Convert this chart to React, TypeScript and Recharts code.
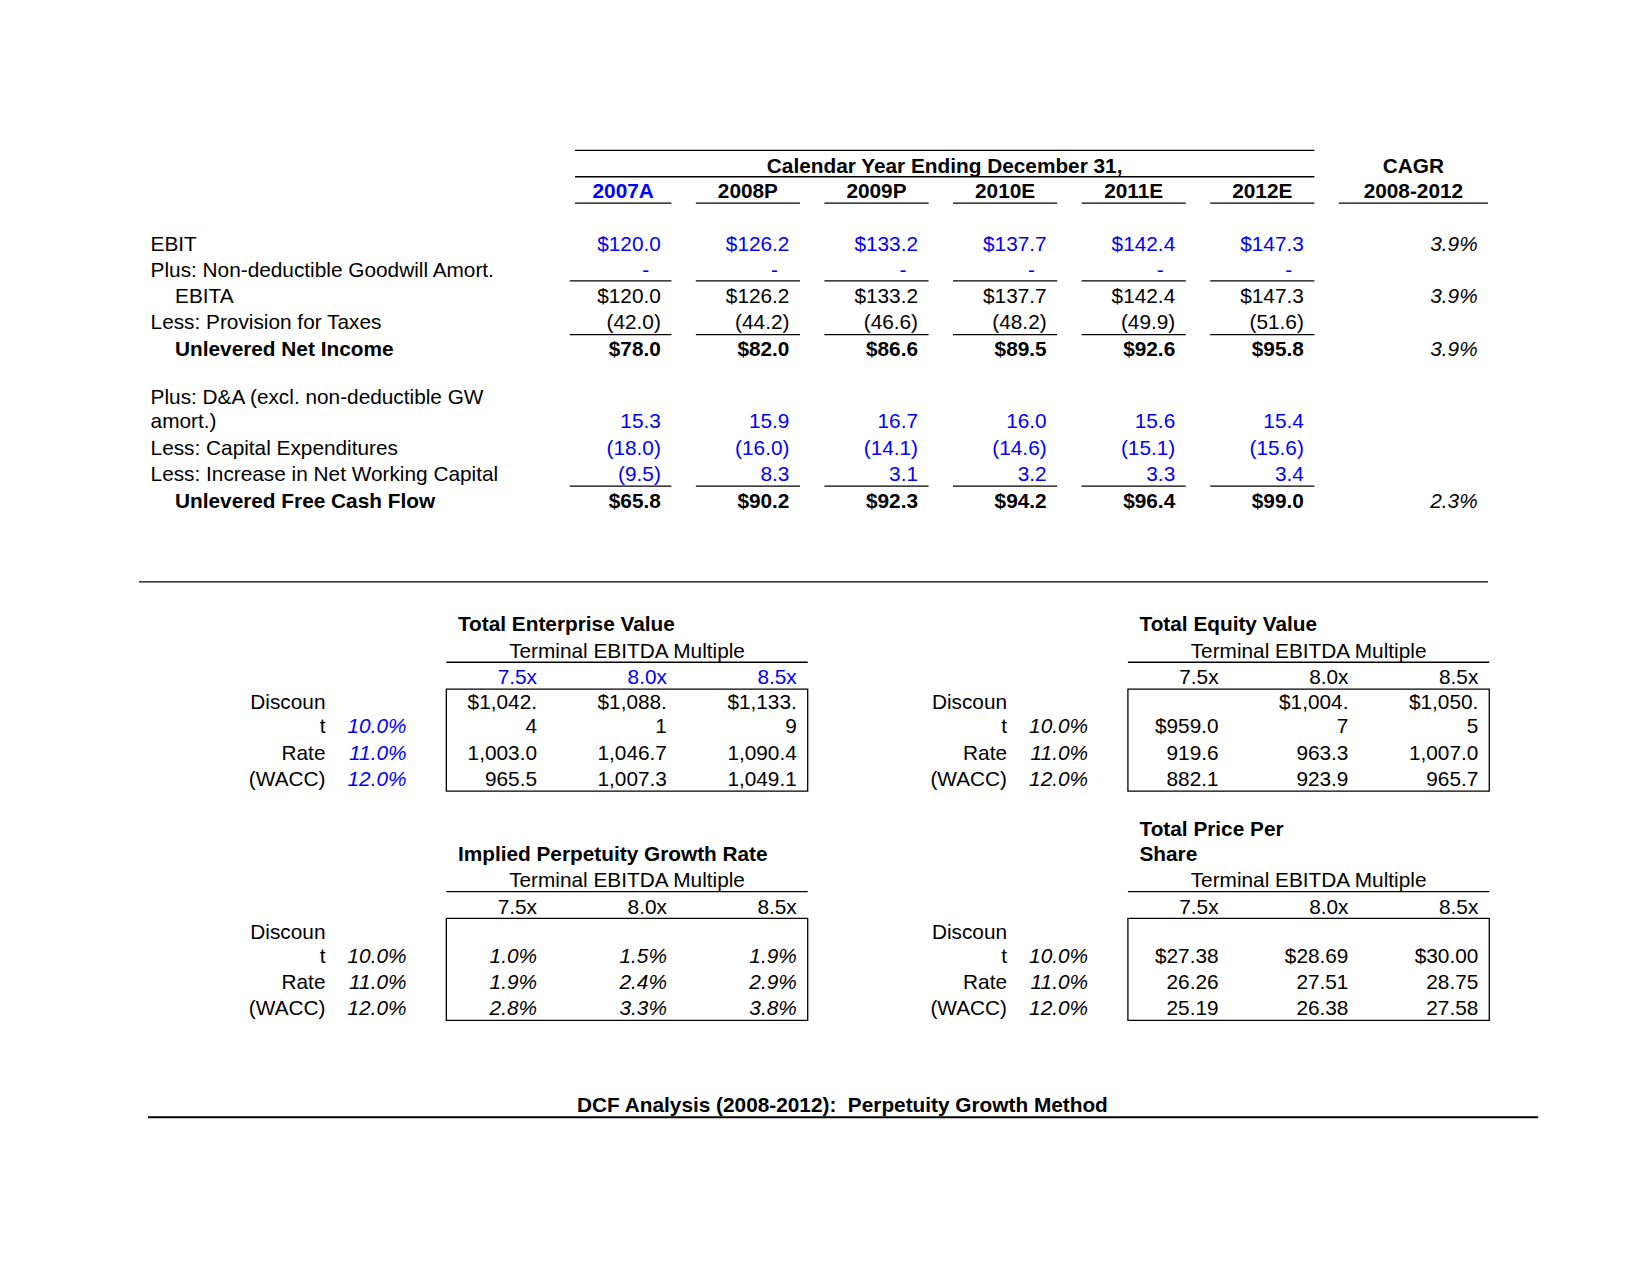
import React from "react";
import {
  ComposedChart,
  Scatter,
  XAxis,
  YAxis,
  ReferenceLine,
  ReferenceArea,
} from "recharts";

// ---- data ----
const years = ["2007A", "2008P", "2009P", "2010E", "2011E", "2012E"];
const rowLabels = [
  "EBIT",
  "Plus: Non-deductible Goodwill Amort.",
  "EBITA",
  "Less: Provision for Taxes",
  "Unlevered Net Income",
  "Plus: D&A (excl. non-deductible GW amort.)",
  "Less: Capital Expenditures",
  "Less: Increase in Net Working Capital",
  "Unlevered Free Cash Flow",
];
const ebit = [120.0, 126.2, 133.2, 137.7, 142.4, 147.3];
const goodwillAmort = [0, 0, 0, 0, 0, 0];
const ebita = [120.0, 126.2, 133.2, 137.7, 142.4, 147.3];
const taxes = [-42.0, -44.2, -46.6, -48.2, -49.9, -51.6];
const netIncome = [78.0, 82.0, 86.6, 89.5, 92.6, 95.8];
const depreciation = [15.3, 15.9, 16.7, 16.0, 15.6, 15.4];
const capex = [-18.0, -16.0, -14.1, -14.6, -15.1, -15.6];
const nwcChange = [-9.5, 8.3, 3.1, 3.2, 3.3, 3.4];
const freeCashFlow = [65.8, 90.2, 92.3, 94.2, 96.4, 99.0];
const cagr = [3.9, null, 3.9, null, 3.9, null, null, null, 2.3];

const multiples = [7.5, 8.0, 8.5];
const waccRates = [10.0, 11.0, 12.0];
const waccLabels = ["Discount", "Rate", "(WACC)"];
const enterpriseValue = [
  [1042.4, 1088.1, 1133.9],
  [1003.0, 1046.7, 1090.4],
  [965.5, 1007.3, 1049.1],
];
const equityValue = [
  [959.0, 1004.7, 1050.5],
  [919.6, 963.3, 1007.0],
  [882.1, 923.9, 965.7],
];
const growthRate = [
  [1.0, 1.5, 1.9],
  [1.9, 2.4, 2.9],
  [2.8, 3.3, 3.8],
];
const pricePerShare = [
  [27.38, 28.69, 30.0],
  [26.26, 27.51, 28.75],
  [25.19, 26.38, 27.58],
];

// ---- layout (x in spreadsheet columns, y in spreadsheet rows) ----
const W = 1650;
const H = 1275;
const X_DOMAIN: [number, number] = [-4.221, 8.61];
const Y_DOMAIN: [number, number] = [-6.281, 42.198];
const FONT = "'Liberation Sans', Arial, Helvetica, sans-serif";
const SIZE = 20.8;
const BLUE = "#0000ff";
const BLACK = "#000000";
const LINE = 0.92;

type Cell = {
  x: number;
  y: number;
  text: string;
  anchor: "start" | "middle" | "end";
  color: string;
  bold?: boolean;
  italic?: boolean;
};
type Rule = { x1: number; x2: number; y: number; w?: number };
type Box = { x1: number; x2: number; y1: number; y2: number };

const cells: Cell[] = [];
const rules: Rule[] = [];
const boxes: Box[] = [];

const wrapWords = (text: string, max: number) => {
  const out: string[] = [];
  let cur = "";
  text.split(" ").forEach((w) => {
    const next = cur ? cur + " " + w : w;
    if (next.length > max && cur) {
      out.push(cur);
      cur = w;
    } else cur = next;
  });
  out.push(cur);
  return out;
};
const wrapChars = (text: string, max: number) => {
  const out: string[] = [];
  for (let i = 0; i < text.length; i += max) out.push(text.slice(i, i + max));
  return out;
};

function addText(
  lines: string[],
  x: number,
  y: number,
  anchor: Cell["anchor"],
  color: string,
  bold = false,
  italic = false
) {
  lines.forEach((t, i) => {
    cells.push({
      x,
      y: y - (lines.length - 1 - i) * LINE,
      text: t,
      anchor,
      color,
      bold,
      italic,
    });
  });
}

const num = (v: number, d = 1) =>
  Math.abs(v).toLocaleString("en-US", {
    minimumFractionDigits: d,
    maximumFractionDigits: d,
  });
const acct = (v: number, dollar: boolean) =>
  v < 0 ? `(${num(v)})` : `${dollar ? "$" : ""}${num(v)}`;

// ---- top table ----
const valueRight = (i: number) => i + 1 - 0.082;
const headLeft = (i: number) => (i === 0 ? 0.25 : i + 0.19);
const ulLeft = (i: number) => (i === 0 ? 0.21 : i + 0.19);

rules.push({ x1: 0.25, x2: 6, y: -0.56 });
addText(["Calendar Year Ending December 31,"], 3.125, 0, "middle", BLACK, true);
rules.push({ x1: 0.25, x2: 6, y: 0.44 });
addText(["CAGR"], 6.77, 0, "middle", BLACK, true);
addText(["2008-2012"], 6.77, 0.97, "middle", BLACK, true);
years.forEach((yr, i) => {
  const left = headLeft(i);
  addText([yr], (left + i + 1) / 2, 0.97, "middle", i === 0 ? BLUE : BLACK, true);
  rules.push({ x1: left, x2: i + 1, y: 1.44 });
});
rules.push({ x1: 6.19, x2: 7.35, y: 1.44 });

const topRows = [
  { values: ebit, y: 2.96, dollar: true, color: BLUE, indent: false, bold: false },
  { values: goodwillAmort, y: 3.96, dollar: false, color: BLUE, indent: false, bold: false, under: 4.4 },
  { values: ebita, y: 4.96, dollar: true, color: BLACK, indent: true, bold: false },
  { values: taxes, y: 5.96, dollar: false, color: BLACK, indent: false, bold: false, under: 6.44 },
  { values: netIncome, y: 6.96, dollar: true, color: BLACK, indent: true, bold: true },
  { values: depreciation, y: 9.72, dollar: false, color: BLUE, indent: false, bold: false, wrap: 35 },
  { values: capex, y: 10.72, dollar: false, color: BLUE, indent: false, bold: false },
  { values: nwcChange, y: 11.72, dollar: false, color: BLUE, indent: false, bold: false, under: 12.2 },
  { values: freeCashFlow, y: 12.76, dollar: true, color: BLACK, indent: true, bold: true },
];

topRows.forEach((row, r) => {
  addText(
    row.wrap ? wrapWords(rowLabels[r], row.wrap) : [rowLabels[r]],
    row.indent ? -2.86 : -3.05,
    row.y,
    "start",
    BLACK,
    row.bold
  );
  row.values.forEach((v, i) => {
    if (v === 0) addText(["-"], valueRight(i) - 0.09, row.y, "end", row.color, row.bold);
    else addText([acct(v, row.dollar)], valueRight(i), row.y, "end", row.color, row.bold);
    if (row.under !== undefined) rules.push({ x1: ulLeft(i), x2: i + 1, y: row.under });
  });
  const g = cagr[r];
  if (g !== null) addText([`${g.toFixed(1)}%`], 7.27, row.y, "end", BLACK, false, true);
});

rules.push({ x1: -3.14, x2: 7.35, y: 15.84 });

// ---- sensitivity blocks ----
function block(
  ox: number,
  y0: number,
  title: string,
  titleWrap: number,
  matrix: number[][],
  fmt: (v: number, r: number) => string,
  italicValues: boolean,
  accent: string
) {
  addText(wrapWords(title, titleWrap), ox - 0.66, y0 - 3.88, "start", BLACK, true);
  addText(["Terminal EBITDA Multiple"], ox + 0.655, y0 - 2.88, "middle", BLACK);
  rules.push({ x1: ox - 0.75, x2: ox + 2.06, y: y0 - 2.42 });
  const colRight = (j: number) => ox - 0.045 + 1.01 * j;
  multiples.forEach((m, j) =>
    addText([`${m.toFixed(1)}x`], colRight(j), y0 - 1.86, "end", accent)
  );
  boxes.push({ x1: ox - 0.75, x2: ox + 2.06, y1: y0 - 1.4, y2: y0 + 2.48 });
  waccRates.forEach((rate, r) => {
    addText(wrapChars(waccLabels[r], 7), ox - 1.69, y0 + r, "end", BLACK);
    addText([`${rate.toFixed(1)}%`], ox - 1.06, y0 + r, "end", accent, false, true);
    matrix[r].forEach((v, j) =>
      addText(wrapChars(fmt(v, r), 7), colRight(j), y0 + r, "end", BLACK, false, italicValues)
    );
  });
}

const money1 = (v: number, r: number) => `${r === 0 ? "$" : ""}${num(v)}`;
const money2 = (v: number, r: number) => `${r === 0 ? "$" : ""}${num(v, 2)}`;
const pct = (v: number) => `${v.toFixed(1)}%`;

block(0, 21.32, "Total Enterprise Value", 99, enterpriseValue, money1, false, BLUE);
block(5.3, 21.32, "Total Equity Value", 99, equityValue, money1, false, BLACK);
block(0, 30.04, "Implied Perpetuity Growth Rate", 99, growthRate, pct, true, BLACK);
block(5.3, 30.04, "Total Price Per Share", 15, pricePerShare, money2, false, BLACK);

addText(["DCF Analysis (2008-2012):  Perpetuity Growth Method"], 2.33, 35.72, "middle", BLACK, true);
rules.push({ x1: -3.07, x2: 7.74, y: 36.2, w: 2.2 });

const renderCell = (props: any) => {
  const { cx, cy, payload } = props;
  return (
    <text
      x={cx}
      y={cy}
      dy="0.36em"
      textAnchor={payload.anchor}
      fill={payload.color}
      fontFamily={FONT}
      fontSize={SIZE}
      fontWeight={payload.bold ? 700 : 400}
      fontStyle={payload.italic ? "italic" : "normal"}
      style={{ whiteSpace: "pre" }}
    >
      {payload.text}
    </text>
  );
};

export default function App() {
  return (
    <div
      style={{
        position: "absolute",
        left: 0,
        top: 0,
        width: W,
        height: H,
        background: "#fff",
      }}
    >
      <ComposedChart
        width={W}
        height={H}
        margin={{ top: 0, right: 0, bottom: 0, left: 0 }}
      >
        <XAxis type="number" dataKey="x" domain={X_DOMAIN} hide allowDataOverflow />
        <YAxis
          type="number"
          dataKey="y"
          domain={Y_DOMAIN}
          reversed
          hide
          allowDataOverflow
        />
        {boxes.map((b, i) => (
          <ReferenceArea
            key={`box-${i}`}
            x1={b.x1}
            x2={b.x2}
            y1={b.y1}
            y2={b.y2}
            fill="none"
            stroke={BLACK}
            strokeWidth={1.3}
          />
        ))}
        {rules.map((r, i) => (
          <ReferenceLine
            key={`rule-${i}`}
            segment={[
              { x: r.x1, y: r.y },
              { x: r.x2, y: r.y },
            ]}
            stroke={BLACK}
            strokeWidth={r.w ?? 1.3}
          />
        ))}
        <Scatter data={cells} shape={renderCell} isAnimationActive={false} />
      </ComposedChart>
    </div>
  );
}
